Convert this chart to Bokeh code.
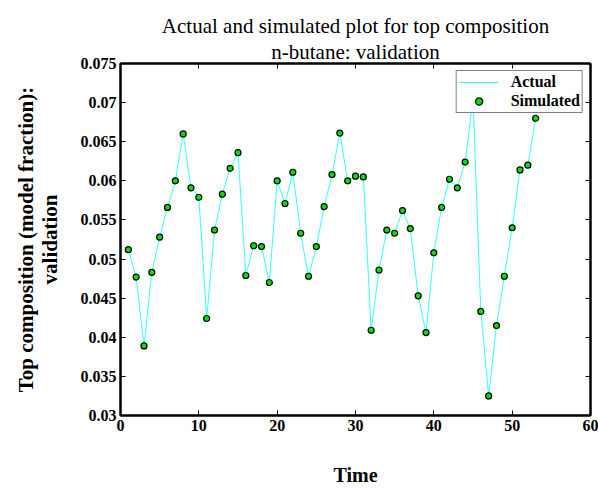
from bokeh.plotting import figure
from bokeh.models import LinearAxis, CustomJSTickFormatter, FixedTicker, Legend, LegendItem, Title
from bokeh.embed import file_html
from bokeh.resources import INLINE

time = list(range(1, 54))
actual = [0.0512, 0.0477, 0.0389, 0.0483, 0.0528, 0.0566, 0.0600, 0.0660, 0.0591, 0.0579,
          0.0424, 0.0537, 0.0583, 0.0616, 0.0636, 0.0479, 0.0517, 0.0516, 0.0470, 0.0600,
          0.0571, 0.0611, 0.0533, 0.0478, 0.0516, 0.0567, 0.0608, 0.0661, 0.0600, 0.0606,
          0.0605, 0.0409, 0.0486, 0.0537, 0.0533, 0.0562, 0.0539, 0.0453, 0.0406, 0.0508,
          0.0566, 0.0602, 0.0591, 0.0624, 0.0705, 0.0433, 0.0325, 0.0415, 0.0478, 0.0540,
          0.0614, 0.0620, 0.0680]
simulated = [0.0512, 0.0477, 0.0389, 0.0483, 0.0528, 0.0566, 0.0600, 0.0660, 0.0591, 0.0579,
             0.0424, 0.0537, 0.0583, 0.0616, 0.0636, 0.0479, 0.0517, 0.0516, 0.0470, 0.0600,
             0.0571, 0.0611, 0.0533, 0.0478, 0.0516, 0.0567, 0.0608, 0.0661, 0.0600, 0.0606,
             0.0605, 0.0409, 0.0486, 0.0537, 0.0533, 0.0562, 0.0539, 0.0453, 0.0406, 0.0508,
             0.0566, 0.0602, 0.0591, 0.0624, 0.0705, 0.0433, 0.0325, 0.0415, 0.0478, 0.0540,
             0.0614, 0.0620, 0.0680]
x_ticks = [0, 10, 20, 30, 40, 50, 60]
y_ticks = [0.03, 0.035, 0.04, 0.045, 0.05, 0.055, 0.06, 0.065, 0.07, 0.075]
title_lines = ["Actual and simulated plot for top composition", "n-butane: validation"]

FONT = "Liberation Serif"

p = figure(width=598, height=488, x_range=(0, 60), y_range=(0.03, 0.075),
           output_backend="svg", toolbar_location=None,
           min_border_left=120, min_border_right=8, min_border_top=63, min_border_bottom=73)

p.grid.visible = False
p.outline_line_color = "black"
p.outline_line_width = 2
p.background_fill_color = "white"
p.border_fill_color = "white"

xa = p.xaxis[0]
ya = p.yaxis[0]
xa.ticker = FixedTicker(ticks=x_ticks)
ya.ticker = FixedTicker(ticks=y_ticks)
for ax in (xa, ya):
    ax.major_tick_in = 5
    ax.major_tick_out = 0
    ax.minor_tick_line_color = None
    ax.axis_line_width = 2
    ax.major_label_text_font = FONT
    ax.major_label_text_font_style = "bold"
    ax.major_label_text_font_size = "16px"
    ax.major_label_text_color = "black"
    ax.major_label_standoff = 4
    ax.axis_label_text_font = FONT
    ax.axis_label_text_font_style = "bold"
    ax.axis_label_text_font_size = "20px"
    ax.axis_label_text_color = "black"

xa.axis_label = "Time"
xa.axis_label_standoff = 30
ya.axis_label = "Top composition (model fraction):\nvalidation"
ya.axis_label_standoff = 16
ya.axis_label_text_font_size = "21px"
ya.axis_label_text_line_height = 1.0

for loc, ticks in (("right", y_ticks), ("above", x_ticks)):
    ax = LinearAxis(ticker=FixedTicker(ticks=ticks),
                    formatter=CustomJSTickFormatter(code="return ''"))
    ax.major_tick_in = 5
    ax.major_tick_out = 0
    ax.minor_tick_line_color = None
    ax.axis_line_width = 2
    ax.major_label_standoff = 0
    p.add_layout(ax, loc)

for line in reversed(title_lines):
    t = Title(text=line, align="center", text_font="Liberation Serif, Times New Roman, serif",
              text_font_style="normal", text_font_size="21px", text_color="black",
              standoff=0, offset=0)
    p.add_layout(t, "above")

r_line = p.line(time, actual, line_color="#33FFFF", line_width=1)
r_pts = p.scatter(time, simulated, size=6, fill_color="#00E000", line_color="black", line_width=1.2)

legend = Legend(items=[LegendItem(label="Actual", renderers=[r_line]),
                       LegendItem(label="Simulated", renderers=[r_pts])],
                location="top_right")
legend.label_text_font = FONT
legend.label_text_font_style = "bold"
legend.label_text_font_size = "16px"
legend.label_text_color = "black"
legend.border_line_color = "black"
legend.border_line_width = 1
legend.background_fill_alpha = 1
legend.glyph_width = 40
legend.glyph_height = 18
legend.label_height = 18
legend.spacing = 1
legend.padding = 2
legend.margin = 7
legend.label_standoff = 12
p.add_layout(legend)

open("out.html", "w").write(file_html(p, INLINE))
